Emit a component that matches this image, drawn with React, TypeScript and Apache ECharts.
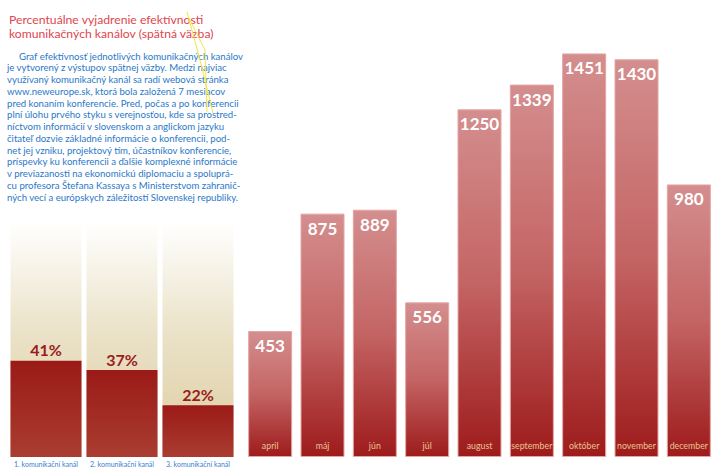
import React, { useEffect, useRef } from "react";
import * as echarts from "echarts";

const titleLines = [
  "Percentuálne vyjadrenie efektívnosti",
  "komunikačných kanálov (spätná väzba)",
];

const paragraphLines = [
  "Graf efektívnosť jednotlivých komunikačných kanálov",
  "je vytvorený z výstupov spätnej väzby. Medzi najviac",
  "využívaný komunikačný kanál sa radí webová stránka",
  "www.neweurope.sk, ktorá bola založená 7 mesiacov",
  "pred konaním konferencie. Pred, počas a po konferencii",
  "plní úlohu prvého styku s verejnosťou, kde sa prostred-",
  "níctvom informácií v slovenskom a anglickom jazyku",
  "čitateľ dozvie základné informácie o konferencii, pod-",
  "net jej vzniku, projektový tím, účastníkov konferencie,",
  "príspevky ku konferencii a ďalšie komplexné informácie",
  "v previazanosti na ekonomickú diplomaciu a spoluprá-",
  "cu profesora Štefana Kassaya s Ministerstvom zahranič-",
  "ných vecí a európskych záležitostí Slovenskej republiky.",
];

const channelLabels = ["1. komunikační kanál", "2. komunikační kanál", "3. komunikační kanál"];
const channelShares = [41, 37, 22];

const months = ["april", "máj", "jún", "júl", "august", "september", "október", "november", "december"];
const visits = [453, 875, 889, 556, 1250, 1339, 1451, 1430, 980];

export default function App() {
  const ref = useRef<HTMLDivElement>(null);

  useEffect(() => {
    document.body.style.margin = "0";
    const chart = echarts.init(ref.current!, null, { renderer: "svg" });
    const LG = echarts.graphic.LinearGradient;

    const graphics: any[] = [];
    titleLines.forEach((t, i) => {
      graphics.push({
        type: "text",
        x: 9,
        y: 19 + i * 14.5,
        style: {
          text: t,
          fill: "#e0464e",
          font: "12.2px Lato",
          textAlign: "left",
          textVerticalAlign: "middle",
        },
      });
    });
    paragraphLines.forEach((t, i) => {
      graphics.push({
        type: "text",
        x: i === 0 ? 19 : 7,
        y: 56 + i * 11.75,
        style: {
          text: t,
          fill: "#2a78c8",
          font: "9.6px Lato",
          textAlign: "left",
          textVerticalAlign: "middle",
        },
      });
    });
    graphics.push({
      type: "polyline",
      shape: { points: [[187, 12], [200, 60], [213, 113]] },
      style: { stroke: "#f3e640", lineWidth: 1, fill: null },
      z: 100,
    });
    graphics.push({
      type: "polyline",
      shape: { points: [[189, 18], [205, 50], [207, 112]] },
      style: { stroke: "#f3e640", lineWidth: 1, fill: null },
      z: 100,
    });

    const option: any = {
      animation: false,
      grid: [
        { left: 8, width: 228, top: 222, bottom: 10 },
        { left: 244, width: 484, top: 12, bottom: 10 },
      ],
      xAxis: [
        {
          type: "category",
          gridIndex: 0,
          data: channelLabels,
          axisLine: { show: false },
          axisTick: { show: false },
          axisLabel: {
            interval: 0,
            margin: 3,
            fontSize: 7,
            fontFamily: "Lato",
            color: "#3a80cc",
          },
        },
        {
          type: "category",
          gridIndex: 1,
          data: months,
          z: 10,
          axisLine: { show: false },
          axisTick: { show: false },
          axisLabel: {
            interval: 0,
            inside: true,
            margin: 7,
            fontSize: 8.8,
            fontFamily: "Lato",
            color: "#e9c596",
          },
        },
      ],
      yAxis: [
        { type: "value", gridIndex: 0, min: 0, max: 100, show: false },
        { type: "value", gridIndex: 1, min: 0, max: 1600, show: false },
      ],
      series: [
        {
          type: "bar",
          xAxisIndex: 0,
          yAxisIndex: 0,
          data: channelShares,
          barWidth: 71,
          showBackground: true,
          backgroundStyle: {
            color: new LG(
              0,
              222,
              0,
              457,
              [
                { offset: 0, color: "#ffffff" },
                { offset: 0.45, color: "#ebe3ca" },
                { offset: 1, color: "#ddcc9f" },
              ],
              true
            ),
          },
          itemStyle: {
            color: new LG(0, 0, 0, 1, [
              { offset: 0, color: "#9b1a17" },
              { offset: 1, color: "#aa3d32" },
            ]),
          },
          label: {
            show: true,
            position: "top",
            distance: 3,
            formatter: "{c}%",
            color: "#9b1c1c",
            fontWeight: "bold",
            fontSize: 16,
            fontFamily: "Lato",
          },
        },
        {
          type: "bar",
          xAxisIndex: 1,
          yAxisIndex: 1,
          data: visits,
          barWidth: 44,
          itemStyle: {
            color: new LG(0, 0, 0, 1, [
              { offset: 0, color: "#d48e8e" },
              { offset: 0.5, color: "#c46464" },
              { offset: 1, color: "#9e1b1b" },
            ]),
            borderColor: "#e6a4a4",
            borderWidth: 1,
          },
          label: {
            show: true,
            position: "insideTop",
            distance: 6,
            color: "#ffffff",
            fontWeight: "bold",
            fontSize: 17,
            fontFamily: "Lato",
          },
        },
      ],
      graphic: graphics,
    };

    chart.setOption(option);
    return () => chart.dispose();
  }, []);

  return <div ref={ref} style={{ width: 715, height: 467 }} />;
}
